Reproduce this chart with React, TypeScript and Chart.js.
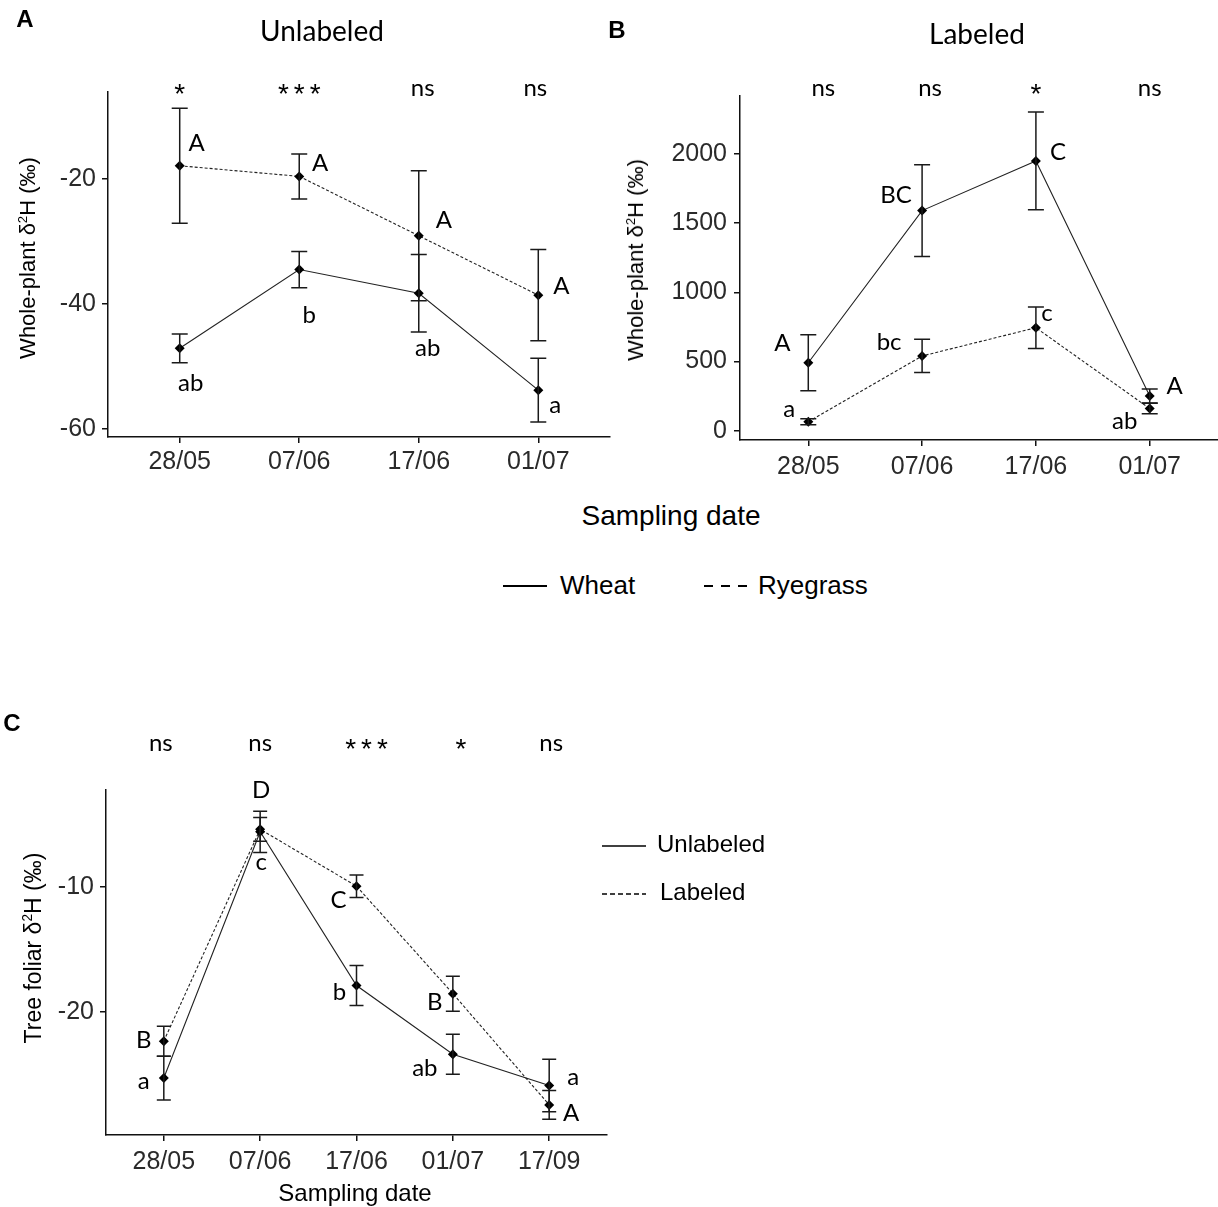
import React, { useEffect, useRef } from "react";
import { Chart, registerables } from "chart.js";
Chart.register(...registerables);

// ---------- DATA ----------
const datesAB = ["28/05", "07/06", "17/06", "01/07"];
const datesC = ["28/05", "07/06", "17/06", "01/07", "17/09"];

// Panel A – Unlabeled (whole-plant δ2H, ‰)
const aWheat = [-47.1, -34.5, -38.3, -53.8];
const aWheatErr = [2.3, 2.9, 6.2, 5.1];
const aRye = [-17.9, -19.6, -29.1, -38.6];
const aRyeErr = [9.2, 3.6, 10.4, 7.3];
const aWheatLetters = ["ab", "b", "ab", "a"];
const aRyeLetters = ["A", "A", "A", "A"];
const aSig = ["*", "***", "ns", "ns"];
const aTicks = [-60, -40, -20];

// Panel B – Labeled
const bWheat = [491, 1590, 1949, 251];
const bWheatErr = [202, 331, 353, 50];
const bRye = [65, 540, 744, 160];
const bRyeErr = [22, 120, 150, 38];
const bWheatLetters = ["A", "BC", "C", "A"];
const bRyeLetters = ["a", "bc", "c", "ab"];
const bSig = ["ns", "ns", "*", "ns"];
const bTicks = [0, 500, 1000, 1500, 2000];

// Panel C – Tree foliar
const cUnl = [-25.3, -5.6, -17.9, -23.4, -25.9];
const cUnlErr = [1.75, 1.65, 1.6, 1.6, 2.1];
const cLab = [-22.35, -5.4, -9.95, -18.55, -27.45];
const cLabErr = [1.2, 0.95, 0.9, 1.4, 1.15];
const cUnlLetters = ["a", "c", "b", "ab", "a"];
const cLabLetters = ["B", "D", "C", "B", "A"];
const cSig = ["ns", "ns", "***", "*", "ns"];
const cTicks = [-20, -10];

// ---------- STYLE / PLACEMENT ----------
const TICK_FONT = '"Liberation Sans", Arial, sans-serif';
const ANN_FONT = 'Lato, "Open Sans", sans-serif';

type Series = {
  values: number[];
  err: number[];
  letters: string[];
  offsets: number[][];
  dashed: boolean;
};
type Panel = {
  cats: string[];
  series: Series[];
  sig: string[];
  sigDx: number[];
  sigBaseline: number;
  yMin: number;
  yMax: number;
  yTicks: number[];
  width: number;
  height: number;
  yAxisWidth: number;
  xAxisHeight: number;
  padTop: number;
  padRight: number;
  xTickPad: number;
  yTickPad: number;
  cap: number;
};

const panelA: Panel = {
  cats: datesAB,
  series: [
    { values: aWheat, err: aWheatErr, letters: aWheatLetters, offsets: [[11, 35], [10, 46], [9, 55], [17, 15]], dashed: false },
    { values: aRye, err: aRyeErr, letters: aRyeLetters, offsets: [[17, -22], [21, -13], [25, -15], [23, -9]], dashed: true },
  ],
  sig: aSig,
  sigDx: [0, 0, 4, -3],
  sigBaseline: 4,
  yMin: -61.3,
  yMax: -6.1,
  yTicks: aTicks,
  width: 612,
  height: 480,
  yAxisWidth: 108,
  xAxisHeight: 43,
  padTop: 92,
  padRight: 2,
  xTickPad: 4,
  yTickPad: 6,
  cap: 8,
};

const panelB: Panel = {
  cats: datesAB,
  series: [
    { values: bWheat, err: bWheatErr, letters: bWheatLetters, offsets: [[-26, -19], [-26, -15], [22, -9], [25, -10]], dashed: false },
    { values: bRye, err: bRyeErr, letters: bRyeLetters, offsets: [[-19, -12], [-33, -14], [11, -14], [-25, 13]], dashed: true },
  ],
  sig: bSig,
  sigDx: [15, 8, 0, 0],
  sigBaseline: 0,
  yMin: -67,
  yMax: 2418,
  yTicks: bTicks,
  width: 606,
  height: 480,
  yAxisWidth: 128,
  xAxisHeight: 40,
  padTop: 96,
  padRight: 0,
  xTickPad: 6,
  yTickPad: 7,
  cap: 8,
};

const panelC: Panel = {
  cats: datesC,
  series: [
    { values: cUnl, err: cUnlErr, letters: cUnlLetters, offsets: [[-20, 3], [1, 31], [-17, 7], [-28, 14], [24, -8]], dashed: false },
    { values: cLab, err: cLabErr, letters: cLabLetters, offsets: [[-20, -1], [1, -39], [-18, 14], [-18, 9], [22, 8]], dashed: true },
  ],
  sig: cSig,
  sigDx: [-3, 0, 10, 8, 2],
  sigBaseline: -39,
  yMin: -29.86,
  yMax: -2.26,
  yTicks: cTicks,
  width: 620,
  height: 507,
  yAxisWidth: 106,
  xAxisHeight: 72,
  padTop: 90,
  padRight: 13,
  xTickPad: 6,
  yTickPad: 6,
  cap: 7,
};

function makeOverlay(p: Panel) {
  return {
    id: "overlay",
    afterDatasetsDraw(chart: any) {
      const ctx = chart.ctx;
      const xs = chart.scales.x;
      const ys = chart.scales.y;
      ctx.save();
      ctx.strokeStyle = "#1a1a1a";
      ctx.lineWidth = 1.5;
      p.series.forEach((s) => {
        s.values.forEach((v, i) => {
          const x = xs.getPixelForValue(i);
          const y1 = ys.getPixelForValue(v + s.err[i]);
          const y2 = ys.getPixelForValue(v - s.err[i]);
          ctx.beginPath();
          ctx.moveTo(x, y1);
          ctx.lineTo(x, y2);
          ctx.moveTo(x - p.cap, y1);
          ctx.lineTo(x + p.cap, y1);
          ctx.moveTo(x - p.cap, y2);
          ctx.lineTo(x + p.cap, y2);
          ctx.stroke();
        });
      });
      ctx.fillStyle = "#000";
      ctx.font = `24px ${ANN_FONT}`;
      ctx.textAlign = "center";
      ctx.textBaseline = "middle";
      p.series.forEach((s) => {
        s.letters.forEach((t, i) => {
          const x = xs.getPixelForValue(i) + s.offsets[i][0];
          const y = ys.getPixelForValue(s.values[i]) + s.offsets[i][1];
          ctx.fillText(t, x, y);
        });
      });
      ctx.textBaseline = "alphabetic";
      p.sig.forEach((t, i) => {
        const star = t.indexOf("*") >= 0;
        ctx.font = star ? `28px ${TICK_FONT}` : `24px ${ANN_FONT}`;
        (ctx as any).letterSpacing = star ? "5px" : "0px";
        const x = xs.getPixelForValue(i) + p.sigDx[i] + (star ? 2.5 : 0);
        ctx.fillText(t, x, chart.chartArea.top + p.sigBaseline + (star ? 7 : 0));
      });
      (ctx as any).letterSpacing = "0px";
      ctx.restore();
    },
  };
}

function ChartPanel({ panel, left, top }: { panel: Panel; left: number; top: number }) {
  const ref = useRef<HTMLCanvasElement | null>(null);
  useEffect(() => {
    if (!ref.current) return;
    const p = panel;
    const chart = new Chart(ref.current, {
      type: "line",
      data: {
        datasets: p.series.map((s) => ({
          data: s.values.map((v, i) => ({ x: i, y: v })),
          borderColor: "#222",
          borderWidth: 1.1,
          borderDash: s.dashed ? [3, 2] : [],
          pointStyle: "rectRot",
          pointRadius: 5,
          pointBackgroundColor: "#000",
          pointBorderColor: "#000",
          pointBorderWidth: 0,
          fill: false,
          tension: 0,
        })),
      },
      options: {
        animation: false,
        responsive: false,
        maintainAspectRatio: false,
        layout: {
          autoPadding: false,
          padding: { left: 0, top: p.padTop, right: p.padRight, bottom: 0 },
        },
        plugins: { legend: { display: false }, tooltip: { enabled: false }, title: { display: false } },
        scales: {
          x: {
            type: "linear",
            min: -0.6,
            max: p.cats.length - 0.4,
            afterBuildTicks: (s: any) => {
              s.ticks = p.cats.map((_, i) => ({ value: i }));
            },
            afterFit: (s: any) => {
              s.height = p.xAxisHeight;
            },
            ticks: {
              callback: (v: any) => p.cats[v as number] ?? "",
              font: { family: TICK_FONT, size: 25 },
              color: "#2a2a2a",
              padding: p.xTickPad,
              maxRotation: 0,
              autoSkip: false,
            },
            grid: { display: true, drawOnChartArea: false, drawTicks: true, tickLength: 6, color: "#111", lineWidth: 1.5 },
            border: { display: true, color: "#111", width: 1.5 },
          },
          y: {
            type: "linear",
            min: p.yMin,
            max: p.yMax,
            afterBuildTicks: (s: any) => {
              s.ticks = p.yTicks.map((v) => ({ value: v }));
            },
            afterFit: (s: any) => {
              s.width = p.yAxisWidth;
            },
            ticks: {
              callback: (v: any) => String(v),
              font: { family: TICK_FONT, size: 25 },
              color: "#2a2a2a",
              padding: p.yTickPad,
              autoSkip: false,
            },
            grid: { display: true, drawOnChartArea: false, drawTicks: true, tickLength: 6, color: "#111", lineWidth: 1.5 },
            border: { display: true, color: "#111", width: 1.5 },
          },
        },
      },
      plugins: [makeOverlay(p)],
    } as any);
    return () => chart.destroy();
  }, [panel]);
  return (
    <canvas
      ref={ref}
      width={panel.width}
      height={panel.height}
      style={{ position: "absolute", left, top, width: panel.width, height: panel.height }}
    />
  );
}

function Txt({
  x, y, size, children, bold, family, rotate, anchor,
}: {
  x: number; y: number; size: number; children: any; bold?: boolean; family?: string; rotate?: boolean; anchor?: "left" | "center";
}) {
  const tx = anchor === "left" ? "0" : "-50%";
  return (
    <div
      style={{
        position: "absolute",
        left: x,
        top: y,
        fontSize: size,
        fontWeight: bold ? 700 : 400,
        fontFamily: family || TICK_FONT,
        lineHeight: 1,
        whiteSpace: "nowrap",
        color: "#000",
        transform: rotate ? "translate(-50%,-50%) rotate(-90deg)" : `translate(${tx},-50%)`,
      }}
    >
      {children}
    </div>
  );
}

const sup = { fontSize: "0.6em", verticalAlign: "0.6em", lineHeight: 0 } as const;

export default function App() {
  return (
    <div
      style={{
        position: "absolute",
        left: 0,
        top: 0,
        width: 1218,
        height: 1207,
        background: "#fff",
        overflow: "hidden",
      }}
    >
      <ChartPanel panel={panelA} left={0} top={0} />
      <ChartPanel panel={panelB} left={612} top={0} />
      <ChartPanel panel={panelC} left={0} top={700} />

      <Txt x={25} y={19} size={24} bold>A</Txt>
      <Txt x={617} y={30} size={24} bold>B</Txt>
      <Txt x={12} y={723} size={24} bold>C</Txt>

      <Txt x={322} y={30} size={28} family={ANN_FONT}>Unlabeled</Txt>
      <Txt x={977} y={33} size={28} family={ANN_FONT}>Labeled</Txt>

      <Txt x={28} y={258} size={22} rotate>
        Whole-plant δ<span style={sup}>2</span>H (‰)
      </Txt>
      <Txt x={636} y={260} size={22} rotate>
        Whole-plant δ<span style={sup}>2</span>H (‰)
      </Txt>
      <Txt x={33} y={948} size={23} rotate>
        Tree foliar δ<span style={sup}>2</span>H (‰)
      </Txt>

      <Txt x={671} y={516} size={28}>Sampling date</Txt>
      <Txt x={355} y={1193} size={24}>Sampling date</Txt>

      <svg style={{ position: "absolute", left: 503, top: 580 }} width={46} height={12}>
        <line x1={0} y1={6} x2={44} y2={6} stroke="#000" strokeWidth={2} />
      </svg>
      <Txt x={560} y={585} size={26} anchor="left">Wheat</Txt>
      <svg style={{ position: "absolute", left: 704, top: 580 }} width={48} height={12}>
        <line x1={0} y1={6} x2={46} y2={6} stroke="#000" strokeWidth={2} strokeDasharray="9 8" />
      </svg>
      <Txt x={758} y={585} size={26} anchor="left">Ryegrass</Txt>

      <svg style={{ position: "absolute", left: 602, top: 840 }} width={46} height={12}>
        <line x1={0} y1={6} x2={44} y2={6} stroke="#000" strokeWidth={1.6} />
      </svg>
      <Txt x={657} y={844} size={24} anchor="left">Unlabeled</Txt>
      <svg style={{ position: "absolute", left: 602, top: 888 }} width={46} height={12}>
        <line x1={0} y1={6} x2={44} y2={6} stroke="#000" strokeWidth={1.4} strokeDasharray="5 3" />
      </svg>
      <Txt x={660} y={892} size={24} anchor="left">Labeled</Txt>
    </div>
  );
}
